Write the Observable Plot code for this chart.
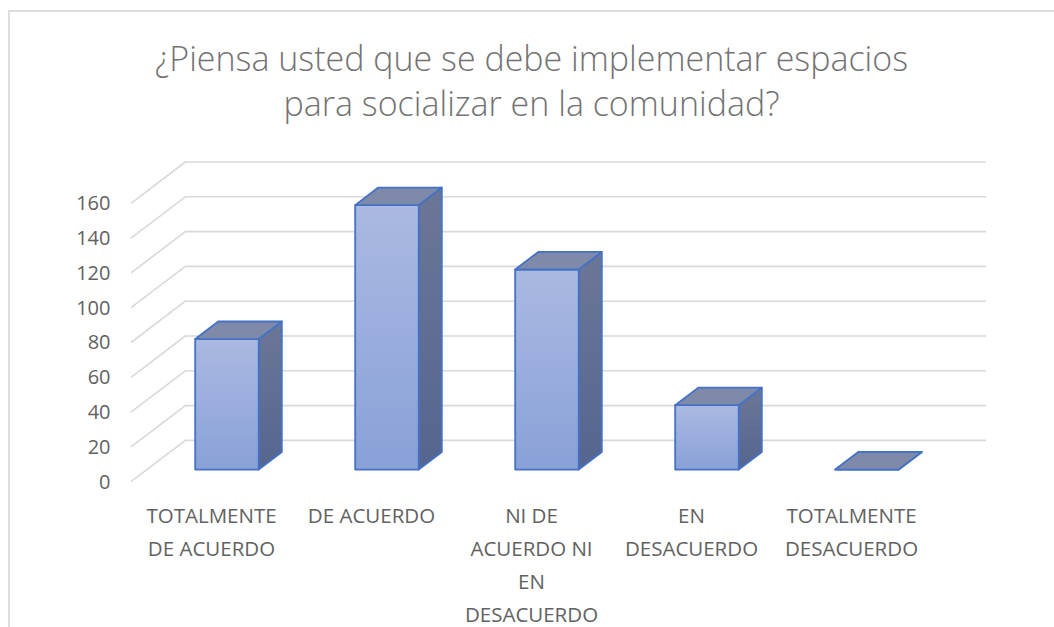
<!DOCTYPE html>
<html>
<head>
<meta charset="utf-8">
<script src="https://cdn.jsdelivr.net/npm/d3@7"></script>
<script src="https://cdn.jsdelivr.net/npm/@observablehq/plot@0.6"></script>
<style>
  html, body { margin: 0; padding: 0; background: #fff; }
  #wrap { position: relative; width: 1054px; height: 627px; overflow: hidden; background: #fff; }
  #frame { position: absolute; left: 8px; top: 10px; width: 1100px; height: 700px;
           border-left: 2px solid #dedede; border-top: 2px solid #dedede; }
  #title { position: absolute; top: 36px; left: 9px; right: 0; text-align: center;
           font-family: "Open Sans", sans-serif; font-weight: 300; font-size: 34px;
           line-height: 45px; color: #737373; }
  #chart { position: absolute; left: 0; top: 140px; }
</style>
</head>
<body>
<div id="wrap">
  <div id="frame"></div>
  <div id="title">¿Piensa usted que se debe implementar espacios<br>para socializar en la comunidad?</div>
  <div id="chart"></div>
</div>
<script>
// ---- data ----
const categories = [
  "TOTALMENTE\nDE ACUERDO",
  "DE ACUERDO",
  "NI DE\nACUERDO NI\nEN\nDESACUERDO",
  "EN\nDESACUERDO",
  "TOTALMENTE\nDESACUERDO"
];
const values = [75, 152, 115, 37, 0];
const yTicks = [0, 20, 40, 60, 80, 100, 120, 140, 160];

const data = categories.map((label, i) => ({i, label, value: values[i]}));

// ---- 3D geometry (pixels) ----
const DEPTH = [55, -41.8];     // full depth vector of the floor / wall
const BAR_FRONT = 0.29;        // fraction of depth where bar front face sits
const BAR_DEPTH = 0.42;        // bar depth as fraction of full depth
const BAR_WIDTH = 0.397;       // in category units

const gridColor = "#d9d9d9";
const textColor = "#626262";

function defsMark() {
  const defs = d3.create("svg:defs");
  const front = defs.append("linearGradient").attr("id", "gFront").attr("x1", 0).attr("y1", 0).attr("x2", 0).attr("y2", 1);
  front.append("stop").attr("offset", "0%").attr("stop-color", "#abb9e2");
  front.append("stop").attr("offset", "100%").attr("stop-color", "#89a1d8");
  const side = defs.append("linearGradient").attr("id", "gSide").attr("x1", 0).attr("y1", 0).attr("x2", 0).attr("y2", 1);
  side.append("stop").attr("offset", "0%").attr("stop-color", "#6c7797");
  side.append("stop").attr("offset", "100%").attr("stop-color", "#55658f");
  return defs.node();
}

function wallMark(index, scales) {
  const g = d3.create("svg:g");
  const x0 = scales.x(-0.5);
  g.selectAll("line").data(yTicks).join("line")
    .attr("x1", x0).attr("y1", d => scales.y(d))
    .attr("x2", x0 + DEPTH[0]).attr("y2", d => scales.y(d) + DEPTH[1])
    .attr("stroke", gridColor).attr("stroke-width", 1.6);
  return g.node();
}

function barsMark(index, scales) {
  const g = d3.create("svg:g");
  const ox = BAR_FRONT * DEPTH[0], oy = BAR_FRONT * DEPTH[1];
  const dx = BAR_DEPTH * DEPTH[0], dy = BAR_DEPTH * DEPTH[1];
  for (const d of data) {
    const xl = scales.x(d.i - BAR_WIDTH / 2) + ox;
    const xr = scales.x(d.i + BAR_WIDTH / 2) + ox;
    const yt = scales.y(d.value) + oy;
    const yb = scales.y(0) + oy;
    const bg = g.append("g")
      .attr("stroke", "#4472c4").attr("stroke-width", 1.8).attr("stroke-linejoin", "round");
    // side face
    bg.append("path")
      .attr("d", `M${xr},${yt}L${xr + dx},${yt + dy}L${xr + dx},${yb + dy}L${xr},${yb}Z`)
      .attr("fill", d.value > 0 ? "url(#gSide)" : "#55658f");
    // front face
    bg.append("path")
      .attr("d", `M${xl},${yt}L${xr},${yt}L${xr},${yb}L${xl},${yb}Z`)
      .attr("fill", d.value > 0 ? "url(#gFront)" : "#8aa1d8");
    // top face
    bg.append("path")
      .attr("d", `M${xl},${yt}L${xr},${yt}L${xr + dx},${yt + dy}L${xl + dx},${yt + dy}Z`)
      .attr("fill", "#7f8aab");
  }
  return g.node();
}

const chart = Plot.plot({
  width: 1054,
  height: 487,
  marginLeft: 131,
  marginRight: 123,
  marginTop: 63.3,
  marginBottom: 145.3,
  x: {type: "linear", domain: [-0.5, 4.5], axis: null},
  y: {domain: [0, 160], axis: null},
  style: {fontFamily: "'Open Sans', sans-serif", background: "transparent", overflow: "visible"},
  marks: [
    defsMark,
    Plot.ruleY(yTicks, {x1: -0.5, x2: 4.5, dx: DEPTH[0], dy: DEPTH[1], stroke: gridColor, strokeWidth: 1.6}),
    wallMark,
    Plot.text(yTicks, {x: -0.5, y: d => d, dx: -21, textAnchor: "end", fontSize: 20, fill: textColor}),
    barsMark,
    Plot.text(data, {x: "i", y: 0, text: "label", lineAnchor: "top", dy: 18, lineHeight: 1.6,
                     fontSize: 20.5, fill: textColor})
  ]
});

document.getElementById("chart").appendChild(chart);
</script>
</body>
</html>
